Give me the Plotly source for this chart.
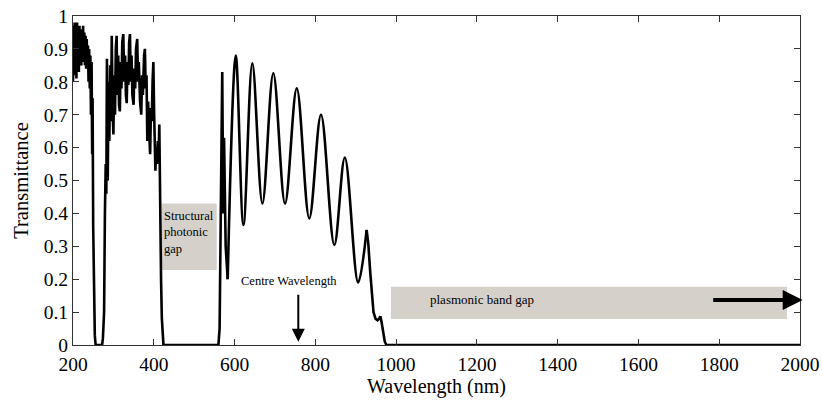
import plotly.graph_objects as go

# ---- data (wavelength in nm, transmittance) ----
# rapidly oscillating UV / blue bands and the first rise of the visible band
dense_nm = [200, 201, 202.5, 204, 205.5, 207, 208.5, 210, 211.5, 213, 214.5, 216, 217.5, 219,
            220.5, 222, 223.5, 225, 226.5, 228, 229.5, 231, 232.5, 234, 235.5, 237, 238.5, 240,
            241.5, 243, 244.5, 246, 247.5, 248.5, 250, 252, 254, 256, 272, 274, 277, 279, 281,
            282.5, 284, 286, 288, 290, 292, 294, 296, 298, 300, 302, 304, 306, 308, 310, 312,
            314, 316, 318, 320, 322, 324.5, 327, 329, 331, 333, 335, 337, 339, 341, 343, 345,
            347, 350, 352, 354, 356, 359, 361, 363, 366, 369, 371, 373, 376, 378, 380, 382, 384,
            386, 388, 391, 393, 395, 397, 399, 401, 404, 406, 408, 410, 412, 413.7, 415, 416.5,
            418, 420, 422, 424, 556, 560, 563, 566, 569.5, 572, 574, 578, 583]
dense_t = [0.80, 0.97, 0.82, 0.98, 0.84, 0.96, 0.81, 0.98, 0.86, 0.95, 0.83, 0.97, 0.87, 0.96,
           0.85, 0.94, 0.86, 0.97, 0.86, 0.95, 0.85, 0.94, 0.84, 0.93, 0.84, 0.91, 0.80, 0.90,
           0.78, 0.88, 0.70, 0.86, 0.58, 0.75, 0.36, 0.12, 0.03, 0.0, 0.0, 0.02, 0.10, 0.40, 0.55,
           0.46, 0.87, 0.50, 0.80, 0.62, 0.85, 0.68, 0.94, 0.72, 0.64, 0.82, 0.70, 0.90, 0.94,
           0.76, 0.88, 0.73, 0.71, 0.86, 0.78, 0.92, 0.945, 0.80, 0.88, 0.76, 0.735, 0.86, 0.79,
           0.92, 0.945, 0.80, 0.88, 0.76, 0.73, 0.84, 0.78, 0.90, 0.93, 0.80, 0.86, 0.74, 0.70,
           0.82, 0.76, 0.88, 0.90, 0.78, 0.82, 0.62, 0.74, 0.66, 0.58, 0.72, 0.68, 0.80, 0.86,
           0.70, 0.53, 0.60, 0.55, 0.62, 0.58, 0.67, 0.45, 0.35, 0.20, 0.08, 0.02, 0.0, 0.0, 0.0,
           0.05, 0.40, 0.83, 0.40, 0.63, 0.30, 0.20]

# smooth Fabry-Perot-like fringes of the visible band (peaks and troughs)
fringe_nm = [583, 603, 622, 644, 669, 696, 725, 754, 785, 814, 847, 873, 906, 927]
fringe_t = [0.20, 0.88, 0.365, 0.856, 0.43, 0.826, 0.43, 0.78, 0.385, 0.70, 0.304, 0.57, 0.19, 0.35]

# fall-off into the plasmonic band gap
tail_nm = [927, 931, 936, 940, 944, 949, 954, 958, 961, 964, 968, 972, 976, 2000]
tail_t = [0.35, 0.31, 0.22, 0.15, 0.10, 0.08, 0.075, 0.08, 0.087, 0.07, 0.04, 0.01, 0.0, 0.0]

x_ticks = [200, 400, 600, 800, 1000, 1200, 1400, 1600, 1800, 2000]
y_ticks = [0, 0.1, 0.2, 0.3, 0.4, 0.5, 0.6, 0.7, 0.8, 0.9, 1]
y_ticktext = ['0', '0.1', '0.2', '0.3', '0.4', '0.5', '0.6', '0.7', '0.8', '0.9', '1']

FONT = 'Liberation Serif'
BOX = '#d5d1ca'
LINE_W = 2.6

fig = go.Figure()
fig.add_trace(go.Scatter(x=dense_nm, y=dense_t, mode='lines',
                         line=dict(color='black', width=LINE_W), hoverinfo='skip'))
fig.add_trace(go.Scatter(x=fringe_nm, y=fringe_t, mode='lines',
                         line=dict(color='black', width=LINE_W, shape='spline', smoothing=1.0),
                         hoverinfo='skip'))
fig.add_trace(go.Scatter(x=tail_nm, y=tail_t, mode='lines',
                         line=dict(color='black', width=LINE_W), hoverinfo='skip'))

# shaded boxes
fig.add_shape(type='rect', xref='x', yref='y', x0=419.6, x1=555.8, y0=0.228, y1=0.43,
              fillcolor=BOX, line=dict(width=0), layer='below')
fig.add_shape(type='rect', xref='x', yref='y', x0=987, x1=1968, y0=0.079, y1=0.177,
              fillcolor=BOX, line=dict(width=0), layer='below')

# texts
fig.add_annotation(x=421, y=0.342, xref='x', yref='y', text='Structural<br>photonic<br>gap',
                   showarrow=False, xanchor='left', yanchor='middle', align='left',
                   font=dict(family=FONT, size=12.5, color='black'))
fig.add_annotation(x=734.7, y=0.195, xref='x', yref='y', text='Centre Wavelength',
                   showarrow=False, xanchor='center', yanchor='middle',
                   font=dict(family=FONT, size=12.5, color='black'))
fig.add_annotation(x=1079, y=0.137, xref='x', yref='y', text='plasmonic band gap',
                   showarrow=False, xanchor='left', yanchor='middle',
                   font=dict(family=FONT, size=13, color='black'))

# arrows
fig.add_annotation(x=757.8, y=0.01, xref='x', yref='y', ax=757.8, ay=0.157,
                   axref='x', ayref='y', text='', showarrow=True,
                   arrowhead=2, arrowsize=1.3, arrowwidth=2, arrowcolor='black')
fig.add_annotation(x=1.0037, y=0.137, xref='paper', yref='y', ax=-91, ay=0,
                   text='', showarrow=True,
                   arrowhead=2, arrowsize=1.0, arrowwidth=4, arrowcolor='black')

axis_common = dict(showline=True, linecolor='#333333', linewidth=1, mirror='ticks',
                   ticks='inside', ticklen=6, tickcolor='#333333', tickwidth=1,
                   showgrid=False, zeroline=False, automargin=False)

fig.update_xaxes(range=[200, 2000], tickvals=x_ticks,
                 tickfont=dict(family=FONT, size=19.5, color='black'),
                 ticklabelstandoff=2,
                 title=dict(text='Wavelength (nm)', font=dict(family=FONT, size=20, color='black'),
                            standoff=2),
                 **axis_common)
fig.update_yaxes(range=[0, 1], tickvals=y_ticks, ticktext=y_ticktext,
                 tickfont=dict(family=FONT, size=19.5, color='black'),
                 title=dict(text='Transmittance', font=dict(family=FONT, size=20.5, color='black'),
                            standoff=9),
                 **axis_common)

fig.update_layout(width=822, height=405, margin=dict(l=73, r=22, t=16, b=60),
                  plot_bgcolor='white', paper_bgcolor='white', showlegend=False,
                  font=dict(family=FONT, color='black'))

fig.write_html('out.html', config={'displayModeBar': False},
               post_script="document.body.style.margin='0';")
